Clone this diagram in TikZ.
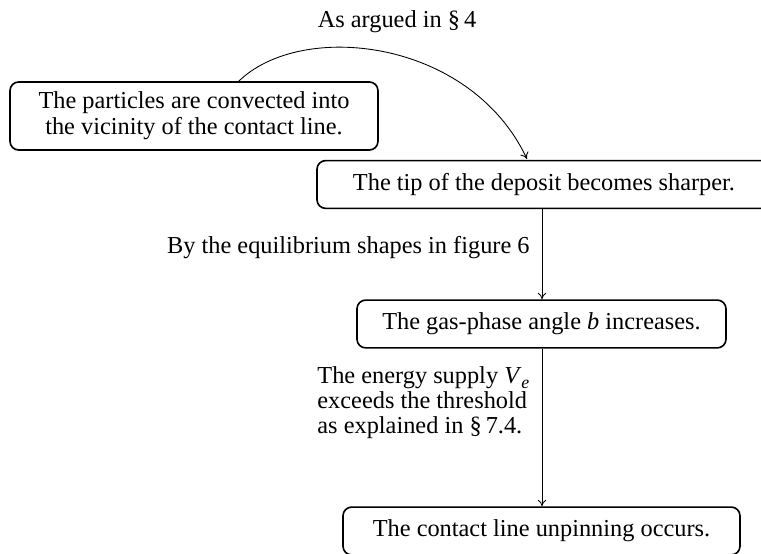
\documentclass[tikz,border=0pt]{standalone}
\usepackage{fontspec}
\setmainfont{Liberation Serif}
\usetikzlibrary{arrows.meta}
\begin{document}
\begin{tikzpicture}[x=0.46pt,y=-0.46pt,
  stepbox/.style={draw,line width=0.75pt,rounded corners=4pt,inner xsep=4pt,inner ysep=0pt,minimum height=22pt,align=center,font=\fontsize{11.2}{12}\selectfont},
  lbl/.style={inner sep=0pt,font=\fontsize{11.2}{12}\selectfont},
  conn/.style={-{To[length=3pt,width=4pt]},line width=0.4pt}]
\useasboundingbox (0,0) rectangle (761,554);
\clip (0,0) rectangle (761,554);
\node[stepbox,minimum height=31.3pt,minimum width=368*0.46pt] (b1) at (194,116) {The particles are convected into\\the vicinity of the contact line.};
\node[stepbox,minimum width=454*0.46pt] (b2) at (544,184.5) {The tip of the deposit becomes sharper.};
\node[stepbox,minimum width=369*0.46pt] (b3) at (541.5,324) {The gas-phase angle \textit{b} increases.};
\node[stepbox,minimum width=397*0.46pt] (b4) at (541.5,531) {The contact line unpinning occurs.};
\coordinate (c1) at (238,82);
\coordinate (c2) at (527,159);
\draw[conn] (c1) .. controls (300,20) and (470,38) .. (c2);
\node[lbl] (l1) at (397,22) {As argued in \S\,4};
\coordinate (a1) at (b2.south -| 542,0);
\coordinate (a2) at (b3.north -| 542,0);
\coordinate (a3) at (b3.south -| 542,0);
\coordinate (a4) at (b4.north -| 542,0);
\draw[conn] (a1) -- (a2);
\draw[conn] (a3) -- (a4);
\node[lbl,anchor=east] (l2) at (530,248) {By the equilibrium shapes in figure 6};
\node[lbl,anchor=west,align=left,font=\fontsize{11.2}{11.5}\selectfont] (l3) at (317,403) {The energy supply \textit{V}\raisebox{-0.45ex}{\fontsize{8.2}{9}\selectfont\textit{e}}\\exceeds the threshold\\as explained in \S\,7.4.};
\end{tikzpicture}
\end{document}
